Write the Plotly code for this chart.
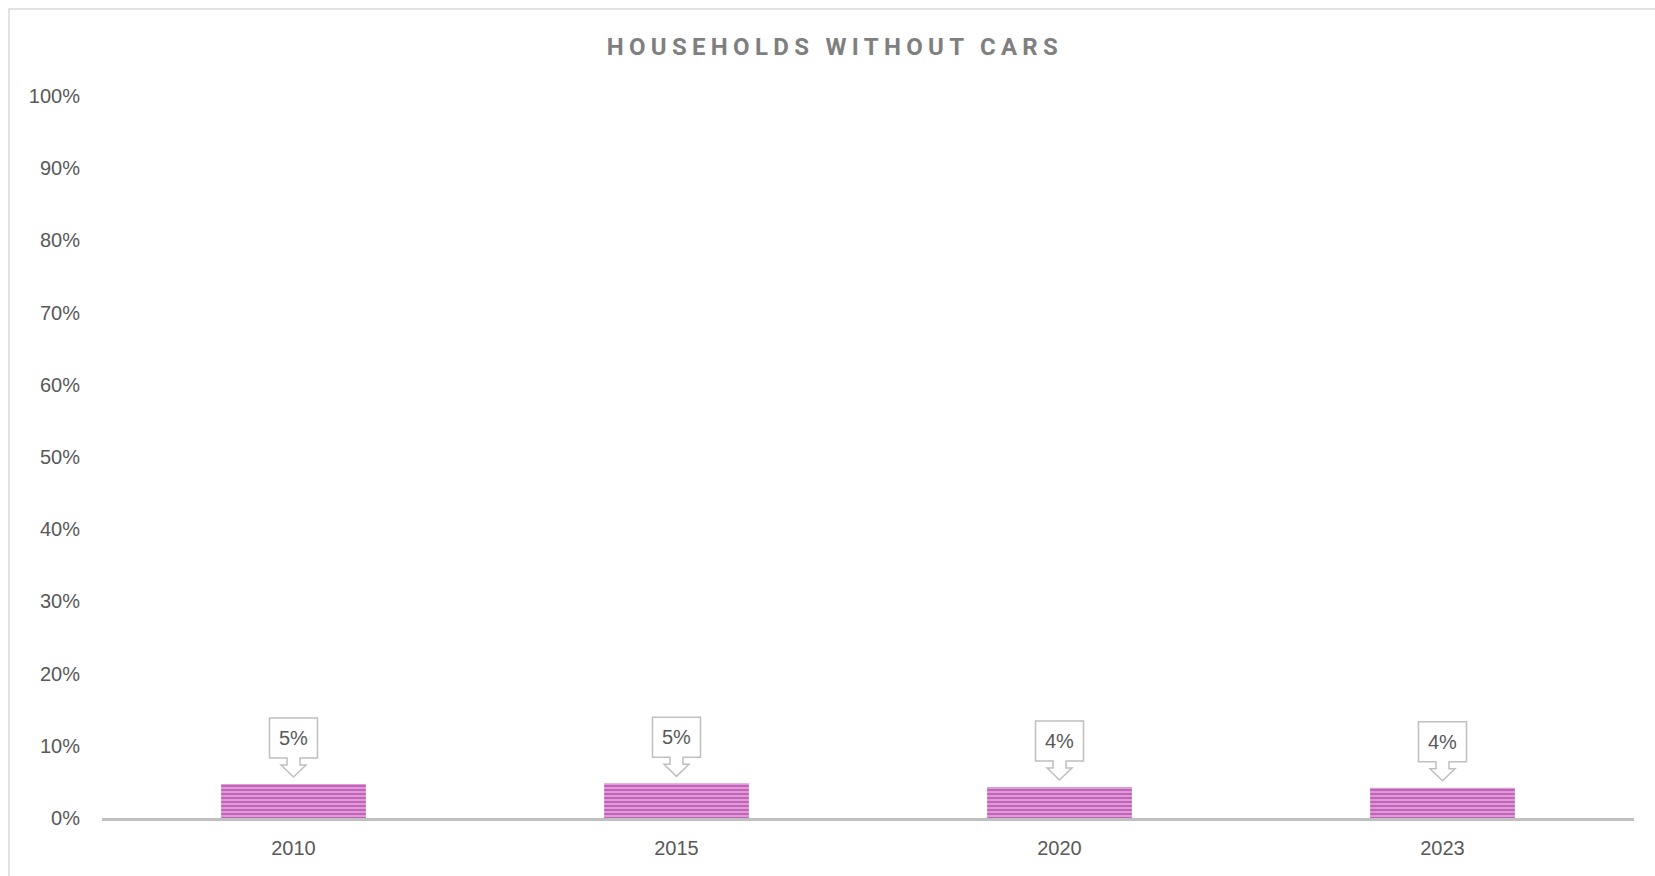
import plotly.graph_objects as go

years = ["2010", "2015", "2020", "2023"]
share_no_car = [0.047, 0.048, 0.043, 0.042]
y_ticks = [i / 10 for i in range(11)]
y_tick_labels = [f"{i * 10}%" for i in range(11)]
title_text = "HOUSEHOLDS WITHOUT CARS"

fig = go.Figure()
fig.add_trace(go.Bar(
    x=years,
    y=share_no_car,
    width=0.378,
    marker=dict(
        color="#E4A8DC",
        line=dict(width=0),
        pattern=dict(shape="-", fgcolor="#9E1E96", bgcolor="#E4A8DC",
                     size=4, solidity=0.6),
    ),
    hoverinfo="skip",
))

# callout shapes (box + down arrow), pixel-sized, anchored at each bar top
callout_path = ("M -24 66 L 24 66 L 24 26 L 6.5 26 L 6.5 19 L 12.5 19 "
                "L 0 7 L -12.5 19 L -6.5 19 L -6.5 26 L -24 26 Z")
for i, (yr, v) in enumerate(zip(years, share_no_car)):
    fig.add_shape(
        type="path", xref="x", yref="y",
        xsizemode="pixel", ysizemode="pixel",
        xanchor=i, yanchor=v,
        path=callout_path,
        line=dict(color="#BFBFBF", width=1.5),
        fillcolor="white",
        layer="above",
    )
    fig.add_annotation(
        x=i, y=v, xref="x", yref="y",
        text=f"{v:.0%}", showarrow=False,
        yshift=46,
        font=dict(family="Liberation Sans, Arial", size=20, color="#595959"),
    )

# outer chart border
fig.add_shape(
    type="rect", xref="paper", yref="paper",
    x0=-0.0607, x1=1.2, y0=-0.3, y1=1.1205,
    line=dict(color="#D9D9D9", width=1.5),
    fillcolor="rgba(0,0,0,0)", layer="below",
)

fig.update_layout(
    width=1655, height=876,
    margin=dict(l=102, r=21, t=96, b=58),
    paper_bgcolor="white", plot_bgcolor="white",
    showlegend=False,
    title=dict(
        text=title_text,
        x=0.5045, xanchor="center", xref="container",
        y=1 - 46.5 / 876, yanchor="middle", yref="container",
        font=dict(family="Roboto", size=24, color="#7F7F7F", weight="bold"),
    ),
    xaxis=dict(
        type="category",
        range=[-0.5, len(years) - 0.5], autorange=False,
        showgrid=False, zeroline=False,
        showline=True, linecolor="#BFBFBF", linewidth=3,
        ticks="outside", ticklen=10, tickcolor="rgba(0,0,0,0)",
        tickfont=dict(family="Liberation Sans, Arial", size=20, color="#595959"),
        fixedrange=True,
    ),
    yaxis=dict(
        range=[0, 1], autorange=False,
        tickvals=y_ticks, ticktext=y_tick_labels,
        showgrid=False, zeroline=False, showline=False,
        ticks="outside", ticklen=17, tickcolor="rgba(0,0,0,0)",
        tickfont=dict(family="Liberation Sans, Arial", size=20, color="#595959"),
        fixedrange=True,
    ),
)

post = """
document.body.style.margin='0';
var gd=document.getElementById('{plot_id}');
function ls(){document.querySelectorAll('.gtitle').forEach(function(e){e.style.letterSpacing='5.3px';});}
ls();
if(gd && gd.on){gd.on('plotly_afterplot', ls);}
"""
fig.write_html("out.html", post_script=post, config={"displayModeBar": False})
